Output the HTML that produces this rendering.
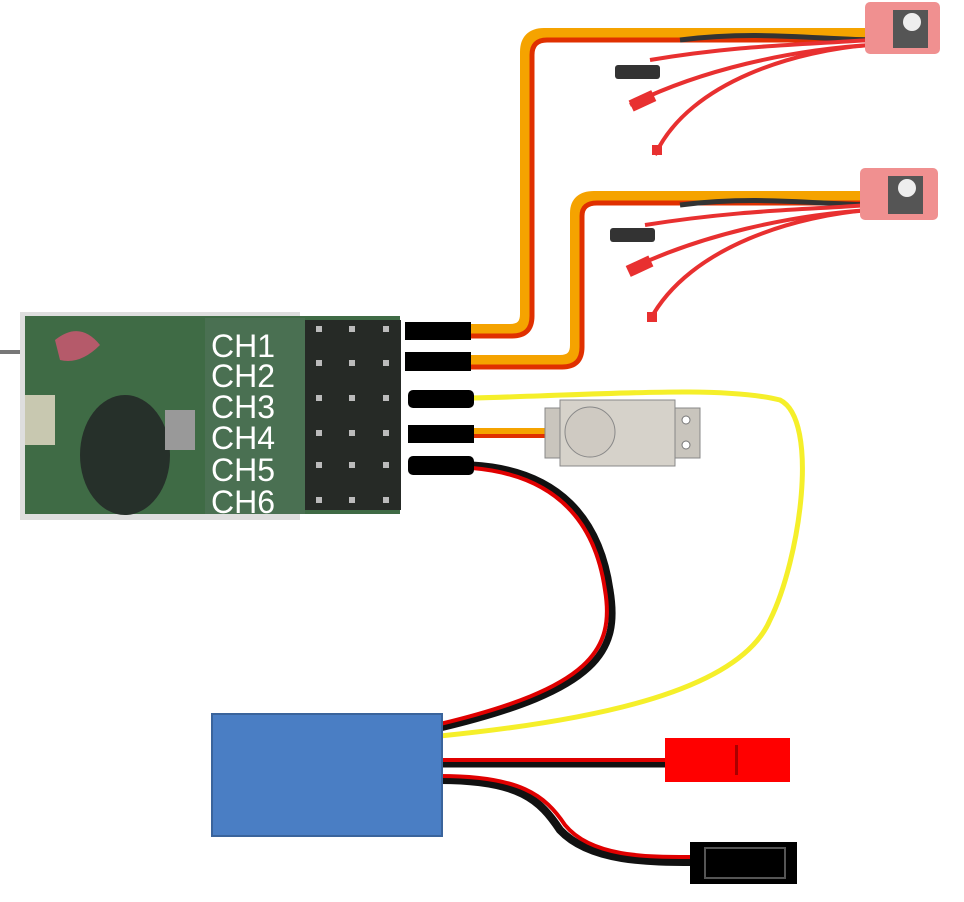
<!DOCTYPE html>
<html><head><style>html,body{margin:0;padding:0;background:#fff}svg{display:block}</style></head>
<body>
<svg width="964" height="902" viewBox="0 0 964 902" xmlns="http://www.w3.org/2000/svg">
<path d="M0 352 L30 352" stroke="#777" stroke-width="4"/>
<rect x="20" y="312" width="280" height="208" fill="#dedede"/>
<rect x="25" y="316" width="375" height="198" fill="#3f6b45"/>
<rect x="205" y="318" width="100" height="196" fill="#4a7052"/>
<rect x="305" y="320" width="96" height="190" fill="#262a26"/>
<g fill="#bbb">
<rect x="316" y="326" width="6" height="6"/><rect x="349" y="326" width="6" height="6"/><rect x="383" y="326" width="6" height="6"/>
<rect x="316" y="360" width="6" height="6"/><rect x="349" y="360" width="6" height="6"/><rect x="383" y="360" width="6" height="6"/>
<rect x="316" y="395" width="6" height="6"/><rect x="349" y="395" width="6" height="6"/><rect x="383" y="395" width="6" height="6"/>
<rect x="316" y="430" width="6" height="6"/><rect x="349" y="430" width="6" height="6"/><rect x="383" y="430" width="6" height="6"/>
<rect x="316" y="462" width="6" height="6"/><rect x="349" y="462" width="6" height="6"/><rect x="383" y="462" width="6" height="6"/>
<rect x="316" y="497" width="6" height="6"/><rect x="349" y="497" width="6" height="6"/><rect x="383" y="497" width="6" height="6"/>
</g>
<ellipse cx="125" cy="455" rx="45" ry="60" fill="#26302a"/>
<rect x="165" y="410" width="30" height="40" fill="#999"/>
<rect x="25" y="395" width="30" height="50" fill="#c8c8b0"/>
<path d="M55 340 Q80 320 100 345 Q80 365 60 360Z" fill="#b55a6a"/>
<g font-family="Liberation Sans, sans-serif" font-size="32" fill="#fff">
<text x="211" y="357">CH1</text><text x="211" y="387">CH2</text><text x="211" y="418">CH3</text>
<text x="211" y="449">CH4</text><text x="211" y="481">CH5</text><text x="211" y="513">CH6</text>
</g>
<g fill="none" stroke-linecap="butt">
<path d="M470 331 H510 Q527 331 527 314 V52 Q527 35 544 35 H880" stroke="#f5a300" stroke-width="14"/>
<path d="M470 336 H512 Q532 336 532 316 V55 Q532 40 547 40 H880" stroke="#e03000" stroke-width="5"/>
<path d="M470 362 H560 Q577 362 577 345 V213 Q577 198 594 198 H880" stroke="#f5a300" stroke-width="14"/>
<path d="M470 367 H562 Q582 367 582 347 V216 Q582 203 597 203 H880" stroke="#e03000" stroke-width="5"/>
<path d="M472 398 C600 395 720 385 780 400 C820 420 800 560 770 620 C740 690 600 720 440 736" stroke="#f5ef2a" stroke-width="5"/>
<path d="M472 433 H550" stroke="#f5a300" stroke-width="10"/>
<path d="M472 436 H550" stroke="#e03000" stroke-width="4"/>
<path d="M472 465 C560 470 600 520 610 590 C620 650 600 690 440 728" stroke="#111" stroke-width="7"/>
<path d="M472 468 C555 475 595 520 605 590 C615 650 590 688 440 724" stroke="#e00000" stroke-width="4"/>
<path d="M440 763 H670" stroke="#111" stroke-width="9"/>
<path d="M440 760 H670" stroke="#e00000" stroke-width="4"/>
<path d="M440 780 C520 780 540 800 560 830 C590 862 650 862 695 862" stroke="#111" stroke-width="8"/>
<path d="M440 776 C520 776 545 795 565 825 C592 858 650 857 695 857" stroke="#e00000" stroke-width="4"/>
</g>
<g fill="#000">
<rect x="405" y="322" width="66" height="18"/><rect x="405" y="352" width="66" height="19"/>
<rect x="408" y="390" width="66" height="18" rx="5"/><rect x="408" y="425" width="66" height="18"/>
<rect x="408" y="456" width="66" height="19" rx="5"/>
</g>
<rect x="545" y="408" width="155" height="50" fill="#c9c5bd" stroke="#888"/>
<rect x="560" y="400" width="115" height="66" fill="#d6d2ca" stroke="#888"/>
<circle cx="590" cy="432" r="25" fill="#cfcac2" stroke="#888"/>
<circle cx="686" cy="420" r="4" fill="#fff" stroke="#777"/><circle cx="686" cy="445" r="4" fill="#fff" stroke="#777"/>
<g>
<path d="M680 40 C760 30 820 40 880 40" stroke="#333" stroke-width="5" fill="none"/>
<path d="M650 60 C740 45 800 45 870 40" stroke="#e83030" stroke-width="4" fill="none"/>
<path d="M655 155 C690 80 800 50 870 45" stroke="#e83030" stroke-width="4" fill="none"/>
<path d="M630 105 C700 70 790 50 870 45" stroke="#e83030" stroke-width="4" fill="none"/>
<rect x="615" y="65" width="45" height="14" rx="3" fill="#333"/>
<rect x="630" y="95" width="25" height="12" fill="#e83030" transform="rotate(-25 642 101)"/>
<rect x="652" y="145" width="10" height="10" fill="#e83030"/>
<rect x="865" y="2" width="75" height="52" rx="5" fill="#f09090"/>
<rect x="893" y="10" width="35" height="38" fill="#555"/><circle cx="912" cy="22" r="9" fill="#eee"/>
</g>
<g>
<path d="M680 205 C760 195 820 205 880 205" stroke="#333" stroke-width="5" fill="none"/>
<path d="M645 225 C740 210 800 210 870 205" stroke="#e83030" stroke-width="4" fill="none"/>
<path d="M650 320 C690 245 800 215 870 210" stroke="#e83030" stroke-width="4" fill="none"/>
<path d="M628 270 C700 235 790 215 870 210" stroke="#e83030" stroke-width="4" fill="none"/>
<rect x="610" y="228" width="45" height="14" rx="3" fill="#333"/>
<rect x="627" y="260" width="25" height="12" fill="#e83030" transform="rotate(-25 640 266)"/>
<rect x="647" y="312" width="10" height="10" fill="#e83030"/>
<rect x="860" y="168" width="78" height="52" rx="5" fill="#f09090"/>
<rect x="888" y="176" width="35" height="38" fill="#555"/><circle cx="907" cy="188" r="9" fill="#eee"/>
</g>
<rect x="212" y="714" width="230" height="122" fill="#4a7ec4" stroke="#3a649c" stroke-width="2"/>
<rect x="665" y="738" width="70" height="44" fill="#f00"/>
<rect x="732" y="738" width="58" height="44" fill="#f00"/>
<rect x="735" y="745" width="3" height="30" fill="#a00"/>
<rect x="690" y="842" width="107" height="42" fill="#000"/>
<rect x="705" y="848" width="80" height="30" fill="none" stroke="#555" stroke-width="2"/>
</svg>
</body></html>
